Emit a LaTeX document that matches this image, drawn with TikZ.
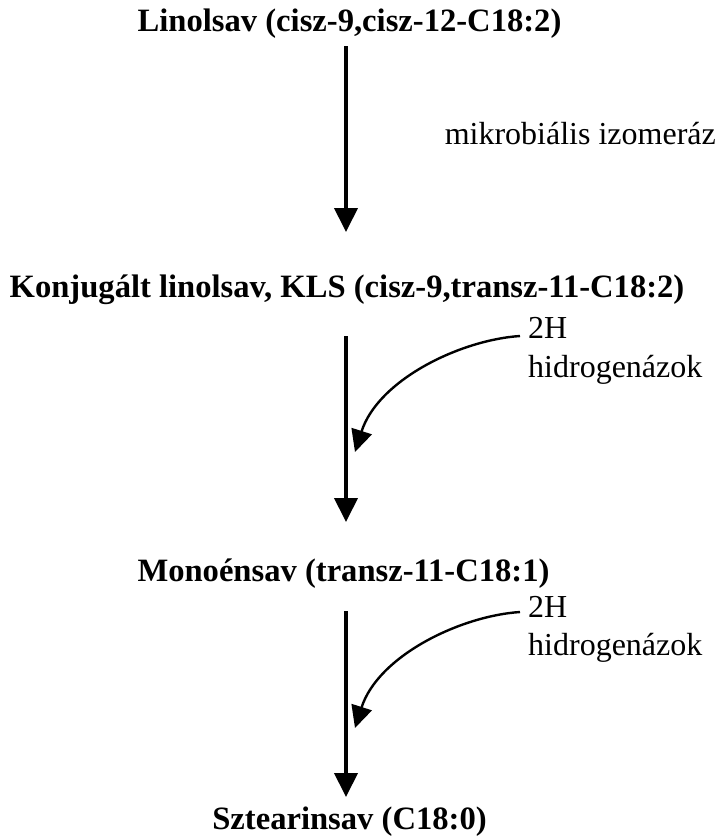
\documentclass[tikz,border=0pt]{standalone}
\usepackage{fontspec}
\setmainfont{Liberation Serif}
\usetikzlibrary{arrows.meta,calc}
\tikzset{
  title/.style={anchor=base, inner sep=0pt, font=\fontsize{32.6}{38}\selectfont\bfseries},
  lbl/.style={anchor=base west, inner sep=0pt, font=\fontsize{32}{38}\selectfont},
  mainarrow/.style={line width=4pt, -{Triangle[width=23pt,length=24pt]}},
  curvearrow/.style={line width=2.4pt, -{Triangle[width=21pt,length=22pt]}}
}
\begin{document}
\begin{tikzpicture}[x=1pt,y=-1pt]
\useasboundingbox (0,0) rectangle (721,836);
% titles
\node[title] (lin) at (349.5,31) {Linolsav (cisz-9,cisz-12-C18:2)};
\node[title] (kls) at (347,297) {Konjugált linolsav, KLS (cisz-9,transz-11-C18:2)};
\node[title] (mono) at (343.5,581) {Monoénsav (transz-11-C18:1)};
\node[title] (szt) at (349.5,829) {Sztearinsav (C18:0)};
% labels
\node[lbl, anchor=base east] (izo) at (716,144) {mikrobiális izomeráz};
\node[lbl] (h2a) at (528,338) {2H};
\node[lbl] (hida) at (528,377) {hidrogenázok};
\node[lbl] (h2b) at (528,617) {2H};
\node[lbl] (hidb) at (528,655) {hidrogenázok};
% arrow end points
\coordinate (a1s) at (346,46);
\coordinate (a1e) at (346,232);
\coordinate (a2s) at (346,336);
\coordinate (a2e) at (346,522);
\coordinate (a3s) at (346,611);
\coordinate (a3e) at (346,797);
\coordinate (c1s) at (520,336);
\coordinate (c1e) at (355,452);
\coordinate (c2s) at (520,612);
\coordinate (c2e) at (355,728);
% main arrows
\draw[mainarrow] (a1s) -- (a1e);
\draw[mainarrow] (a2s) -- (a2e);
\draw[mainarrow] (a3s) -- (a3e);
% curved arrows
\draw[curvearrow] (c1s) .. controls ($(c1s)+(-60,4)$) and ($(c1e)+(23,-72)$) .. (c1e);
\draw[curvearrow] (c2s) .. controls ($(c2s)+(-60,4)$) and ($(c2e)+(23,-72)$) .. (c2e);
\end{tikzpicture}
\end{document}
